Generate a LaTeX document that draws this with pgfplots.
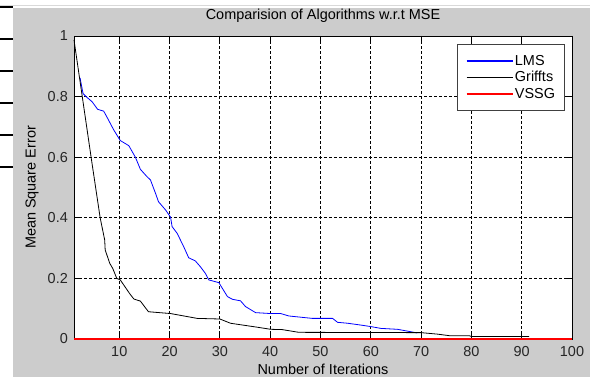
\documentclass[border=0pt]{standalone}
\usepackage{pgfplots}
\pgfplotsset{compat=1.18}
\usepackage{fontspec}
\setmainfont{Liberation Sans}

\definecolor{figgrey}{RGB}{204,204,204}
\definecolor{lmsblue}{RGB}{0,0,255}
\definecolor{vssgred}{RGB}{255,0,0}

\newcommand{\figfont}{\fontsize{14.5}{16}\selectfont}

\begin{document}
\begin{tikzpicture}
\useasboundingbox (0,0) rectangle (590bp,377bp);
% window background
\fill[white] (0,0) rectangle (590bp,377bp);
\draw[black!15, line width=1bp] (0,371bp) -- (590bp,371bp);
\fill[figgrey] (13bp,0) rectangle (590bp,369bp);
\foreach \yy in {370,338,306,274,242,210}
  \draw[black, line width=2bp] (0,\yy bp) -- (13bp,\yy bp);

\begin{axis}[
  at={(74bp,38bp)}, anchor=south west,
  scale only axis, width=498bp, height=303bp,
  xmin=1, xmax=100, ymin=0, ymax=1,
  xtick={10,20,30,40,50,60,70,80,90,100},
  ytick={0,0.2,0.4,0.6,0.8,1},
  yticklabels={0,0.2,0.4,0.6,0.8,1},
  axis background/.style={fill=white},
  axis line style={black, line width=0.8bp},
  tick style={black, line width=0.8bp},
  major tick length=5bp,
  tick align=inside,
  grid=major,
  major grid style={black, line width=0.8bp, dash pattern=on 2.5bp off 2.5bp},
  clip=false,
  /pgf/number format/assume math mode=true,
  tick label style={font=\figfont, text=black!85},
  xticklabel style={anchor=base, inner sep=0pt, yshift=-17.7bp},
  yticklabel style={anchor=east, inner sep=0pt, xshift=-6bp},
  title={Comparision of Algorithms w.r.t MSE},
  title style={font=\figfont, at={(axis description cs:0.5,1)}, anchor=base, yshift=11bp},
  xlabel={Number of Iterations},
  xlabel style={font=\figfont, at={(axis description cs:0.5,0)}, anchor=base, yshift=-36bp},
  ylabel={Mean Square Error},
  ylabel style={font=\figfont, at={(axis description cs:-0.0773,0.5)}, anchor=base},
  legend style={at={(1,1)}, anchor=north east, xshift=-7bp, yshift=-8bp,
    draw=black!75, line width=0.8bp, fill=white, font=\figfont,
    inner xsep=8bp, inner ysep=9.5bp, row sep=1.5bp,
    nodes={inner sep=1.5bp}},
  legend cell align=left,
  legend image code/.code={\draw[#1, line width=1.6bp] (0bp,0bp) -- (46bp,0bp);},
]
\addplot[lmsblue, line width=0.8bp] coordinates {
(2.2,0.862)(2.8,0.81)(3.4,0.80)(4.6,0.783)(5.7,0.758)(6.9,0.752)(7.5,0.734)
(8.9,0.69)(10.2,0.655)(11.9,0.638)(13.2,0.60)(14.2,0.56)(15.5,0.536)(16.2,0.525)
(17.2,0.481)(17.8,0.453)(19.2,0.426)(20.2,0.402)(20.5,0.371)(21.5,0.349)
(22.8,0.305)(23.8,0.268)(25.1,0.258)(26.1,0.239)(27.1,0.217)(27.8,0.195)
(29.8,0.186)(30.5,0.167)(31.5,0.14)(32.5,0.131)(34.1,0.126)(35.1,0.107)
(37.1,0.087)(40.1,0.084)(42.1,0.084)(43.7,0.076)(48.4,0.068)(52.4,0.068)
(53.4,0.055)(55.4,0.052)(58,0.046)(60,0.041)(62,0.035)(65.3,0.032)
(67.3,0.026)(68.6,0.022)(69.2,0.020)
};
\addlegendentry{LMS}
\addplot[black, line width=0.8bp] coordinates {
(1,0.987)(3.9,0.657)(4.4,0.6)(6.2,0.4)(7.1,0.327)(7.2,0.294)(8.1,0.25)
(8.7,0.233)(9.5,0.2)(10.2,0.195)(10.9,0.178)(12.1,0.149)(12.9,0.132)
(14.2,0.125)(15.8,0.09)(20.2,0.084)(25.5,0.068)(30,0.066)(32.1,0.052)
(37.4,0.039)(40.1,0.032)(42.4,0.031)(45.7,0.022)(70,0.021)(73.3,0.016)
(75.6,0.011)(79.6,0.011)(80,0.008)(91.5,0.008)
};
\addlegendentry{Griffts}
\addplot[vssgred, line width=1.6bp] coordinates {(1,0)(100,0)};
\addlegendentry{VSSG}
\end{axis}
\end{tikzpicture}
\end{document}
